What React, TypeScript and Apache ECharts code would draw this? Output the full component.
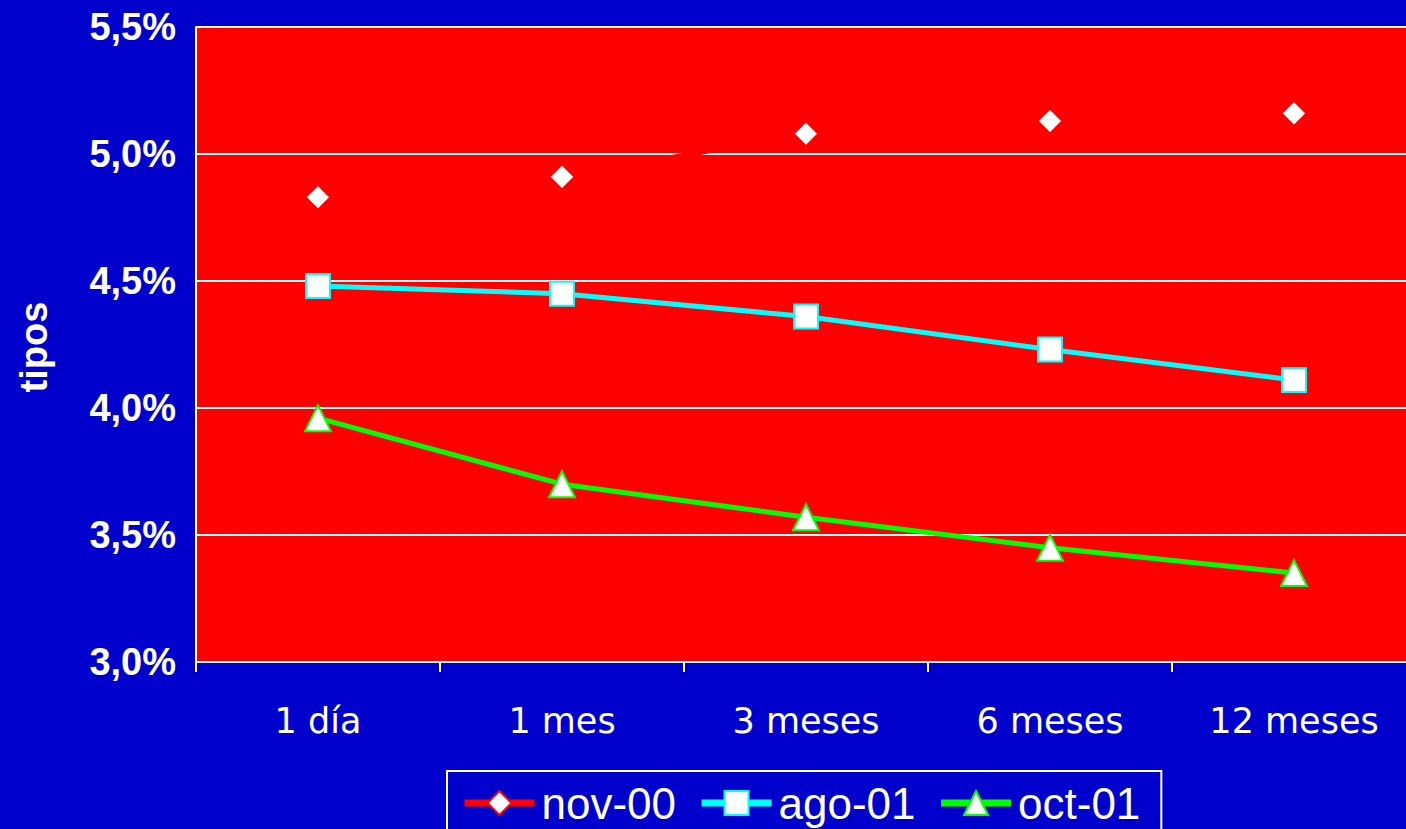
import React, { useEffect, useRef } from "react";
import * as echarts from "echarts";

const categories = ["1 día", "1 mes", "3 meses", "6 meses", "12 meses"];
const nov00 = [4.83, 4.91, 5.08, 5.13, 5.16];
const ago01 = [4.48, 4.45, 4.36, 4.23, 4.11];
const oct01 = [3.96, 3.70, 3.57, 3.45, 3.35];
const yMin = 3.0;
const yMax = 5.5;
const yStep = 0.5;

export default function App() {
  const ref = useRef<HTMLDivElement>(null);
  useEffect(() => {
    if (!ref.current) return;
    const chart = echarts.init(ref.current, undefined, { renderer: "svg" });
    chart.setOption({
      animation: false,
      backgroundColor: "#0000CC",
      grid: {
        show: true,
        left: 196,
        top: 27,
        right: 0,
        bottom: 167,
        backgroundColor: "#FF0000",
        borderWidth: 0,
      },
      legend: {
        left: 447,
        top: 771,
        padding: [10, 21, 40, 14],
        borderColor: "#FFFFFF",
        borderWidth: 2,
        itemWidth: 70,
        itemHeight: 30,
        itemGap: 22,
        lineStyle: { width: 7 },
        textStyle: {
          color: "#FFFFFF",
          fontFamily: "Liberation Sans, Arial, sans-serif",
          fontSize: 44,
          padding: [0, 0, 0, 2],
        },
        data: ["nov-00", "ago-01", "oct-01"],
      },
      graphic: [
        {
          type: "text",
          x: 34,
          y: 347,
          rotation: Math.PI / 2,
          style: {
            text: "tipos",
            fill: "#FFFFFF",
            font: "bold 38px 'Liberation Sans', Arial, sans-serif",
            align: "center",
            verticalAlign: "middle",
          },
        },
      ],
      xAxis: {
        type: "category",
        data: categories,
        boundaryGap: true,
        axisLine: { show: true, lineStyle: { color: "#FFFFFF", width: 2 } },
        axisTick: { show: true, length: 10, lineStyle: { color: "#FFFFFF", width: 2 } },
        axisLabel: {
          color: "#FFFFFF",
          fontFamily: "DejaVu Sans, Verdana, sans-serif",
          fontSize: 35,
          margin: 41,
        },
        splitLine: { show: false },
      },
      yAxis: {
        type: "value",
        min: yMin,
        max: yMax,
        interval: yStep,
        axisLine: { show: true, lineStyle: { color: "#FFFFFF", width: 2 } },
        axisTick: { show: false },
        splitLine: { show: true, lineStyle: { color: "#FFFFFF", width: 2 } },
        axisLabel: {
          color: "#FFFFFF",
          fontFamily: "Liberation Sans, Arial, sans-serif",
          fontWeight: "bold",
          fontSize: 38,
          margin: 20,
          formatter: (v: number) => v.toFixed(1).replace(".", ",") + "%",
        },
      },
      series: [
        {
          name: "nov-00",
          type: "line",
          data: nov00,
          symbol: "diamond",
          symbolSize: 25,
          lineStyle: { color: "#FF0000", width: 5 },
          itemStyle: { color: "#FFFFFF", borderColor: "#FF0000", borderWidth: 2 },
          z: 3,
        },
        {
          name: "ago-01",
          type: "line",
          data: ago01,
          symbol: "rect",
          symbolSize: 24,
          lineStyle: { color: "#00FFFF", width: 5 },
          itemStyle: { color: "#FFFFFF", borderColor: "#00FFFF", borderWidth: 2 },
          z: 4,
        },
        {
          name: "oct-01",
          type: "line",
          data: oct01,
          symbol: "triangle",
          symbolSize: 26,
          lineStyle: { color: "#00FF00", width: 5 },
          itemStyle: { color: "#FFFFFF", borderColor: "#00FF00", borderWidth: 2 },
          z: 5,
        },
      ],
    });
    return () => chart.dispose();
  }, []);
  return (
    <div
      ref={ref}
      style={{ position: "fixed", left: 0, top: 0, width: 1416, height: 829 }}
    />
  );
}
